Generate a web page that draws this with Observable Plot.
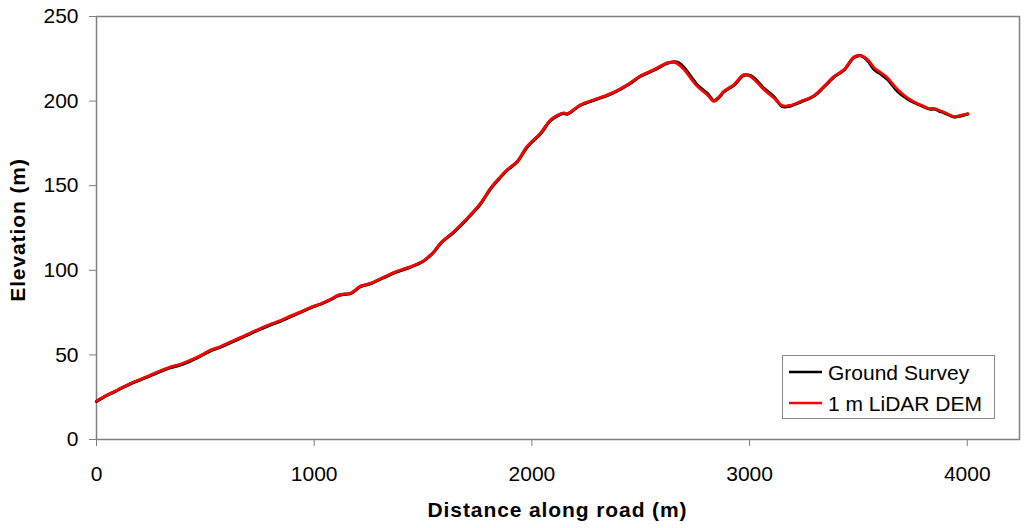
<!DOCTYPE html>
<html>
<head>
<meta charset="utf-8">
<script src="https://cdn.jsdelivr.net/npm/d3@7"></script>
<script src="https://cdn.jsdelivr.net/npm/@observablehq/plot@0.6"></script>
<style>
  html, body { margin: 0; padding: 0; background: #fff; }
  #chart { width: 1024px; height: 528px; }
  svg { font-family: "Liberation Sans", Arial, sans-serif; }
</style>
</head>
<body>
<div id="chart"></div>
<script>
const distance = [0, 30, 60, 100, 154, 200, 246, 290, 338, 385, 430, 475, 522, 570, 614, 660, 706, 750, 798, 845, 890, 935, 982, 1030, 1073, 1110, 1140, 1165, 1190, 1211, 1257, 1317, 1363, 1400, 1441, 1502, 1525, 1550, 1580, 1641, 1702, 1764, 1810, 1850, 1886, 1932, 1978, 2040, 2086, 2120, 2147, 2162, 2224, 2285, 2330, 2377, 2439, 2500, 2561, 2622, 2653, 2675, 2699, 2730, 2760, 2806, 2836, 2860, 2882, 2928, 2974, 3005, 3035, 3066, 3112, 3151, 3189, 3235, 3296, 3342, 3388, 3434, 3480, 3511, 3542, 3573, 3600, 3634, 3680, 3726, 3772, 3800, 3826, 3849, 3870, 3895, 3941, 3970, 4002];

const lidar = [22.7, 25, 27, 29.5, 33, 35.5, 38, 40.5, 42.8, 44.5, 46.8, 49.5, 52.7, 55, 57.6, 60.2, 63, 65.5, 68.1, 70.3, 72.9, 75.3, 78, 80.2, 82.7, 85.3, 86, 86.3, 88.5, 90.6, 92.2, 95.8, 98.5, 100.3, 102, 105.6, 108, 111, 116, 122.8, 130.7, 139.6, 148.5, 154.5, 159.4, 164.3, 173.2, 181.1, 189, 191.8, 193, 192.5, 197.9, 200.8, 202.8, 205.3, 209.7, 215, 218.6, 222.6, 223, 221.5, 218.6, 213.5, 208.7, 203.8, 199.8, 202.5, 205.8, 209.7, 215.6, 214.6, 211, 206.8, 201.8, 197.3, 197.5, 199.8, 203.2, 208.7, 214.6, 218.6, 226.1, 226.9, 224.5, 219.6, 217, 213.7, 206.8, 201.8, 198.5, 197, 195.5, 195.5, 194.5, 193.3, 190.9, 191.5, 192.5];

const ground = [22.5, 24.8, 26.8, 29.3, 32.8, 35.2, 37.6, 40.1, 42.4, 44.1, 46.3, 49.1, 52.3, 54.6, 57.2, 59.8, 62.5, 65.1, 67.7, 69.9, 72.5, 75, 77.7, 80, 82.5, 85, 85.8, 86.1, 88.2, 90.3, 92, 95.5, 98.2, 100, 101.8, 105.4, 107.8, 110.8, 115.8, 122.5, 130.3, 139.2, 148.2, 154.2, 159.1, 164, 172.8, 180.8, 188.6, 191.5, 192.7, 192.3, 197.6, 200.5, 202.5, 205, 209.4, 214.7, 218.3, 222.3, 223.2, 222.5, 219.8, 214.5, 209.5, 204.5, 200.2, 202.3, 205.5, 209.4, 215.3, 215, 211.8, 207.5, 202.5, 196.8, 197.2, 199.5, 203, 208.4, 214.3, 218.3, 225.8, 226.8, 224, 218.6, 216.3, 212.8, 205.8, 201.3, 198.2, 196.7, 195.3, 195.3, 194.2, 193, 190.6, 191.3, 192.3];

const xTicks = [0, 1000, 2000, 3000, 4000];
const yTicks = [0, 50, 100, 150, 200, 250];
const seriesNames = ["Ground Survey", "1 m LiDAR DEM"];
const seriesColors = ["#000000", "#ff0000"];

const groundData = distance.map((d, i) => ({d, e: ground[i]}));
const lidarData = distance.map((d, i) => ({d, e: lidar[i]}));

const W = 1024, H = 528;
const mL = 96, mT = 16, mR = 5, mB = 89;

const plot = Plot.plot({
  width: W,
  height: H,
  marginLeft: mL,
  marginTop: mT,
  marginRight: mR,
  marginBottom: mB,
  style: {fontFamily: "'Liberation Sans', Arial, sans-serif", fontSize: "21px", color: "#000", background: "#fff"},
  x: {domain: [0, 4240], label: null},
  y: {domain: [0, 250], label: null},
  marks: [
    Plot.axisX({ticks: xTicks, tickSize: 7, tickPadding: 20, stroke: "#808080", strokeOpacity: 1, fill: "#000", fontSize: 21, tickFormat: d => String(d)}),
    Plot.axisY({ticks: yTicks, tickSize: 7, tickPadding: 11, stroke: "#808080", strokeOpacity: 1, fill: "#000", fontSize: 21, tickFormat: d => String(d)}),
    Plot.frame({stroke: "#808080", strokeWidth: 1.5}),
    Plot.line(groundData, {x: "d", y: "e", stroke: seriesColors[0], strokeWidth: 3.2, curve: "catmull-rom"}),
    Plot.line(lidarData, {x: "d", y: "e", stroke: seriesColors[1], strokeWidth: 2.8, curve: "catmull-rom"})
  ]
});

document.getElementById("chart").appendChild(plot);

const svg = d3.select(plot);
const font = "'Liberation Sans', Arial, sans-serif";

// Axis titles
svg.append("text")
  .attr("x", mL + (W - mL - mR) / 2)
  .attr("y", 517)
  .attr("text-anchor", "middle")
  .attr("font-family", font)
  .attr("font-size", 21)
  .attr("font-weight", "bold")
  .attr("letter-spacing", "0.9px")
  .attr("fill", "#000")
  .text("Distance along road (m)");

svg.append("text")
  .attr("transform", `translate(25, 230) rotate(-90)`)
  .attr("text-anchor", "middle")
  .attr("font-family", font)
  .attr("font-size", 21)
  .attr("font-weight", "bold")
  .attr("letter-spacing", "0.9px")
  .attr("fill", "#000")
  .text("Elevation (m)");

// Legend
const lg = svg.append("g").attr("text-anchor", "start");
lg.append("rect")
  .attr("x", 782.5).attr("y", 355.5)
  .attr("width", 212).attr("height", 63)
  .attr("fill", "#fff")
  .attr("stroke", "#888").attr("stroke-width", 1);
seriesNames.forEach((name, i) => {
  const yy = 372 + i * 31;
  lg.append("line")
    .attr("x1", 789).attr("x2", 822)
    .attr("y1", yy).attr("y2", yy)
    .attr("stroke", seriesColors[i]).attr("stroke-width", 2.5);
  lg.append("text")
    .attr("x", 828).attr("y", yy + 7.5)
    .attr("text-anchor", "start")
    .attr("font-family", font)
    .attr("font-size", 21)
    .attr("fill", "#000")
    .text(name);
});
</script>
</body>
</html>
